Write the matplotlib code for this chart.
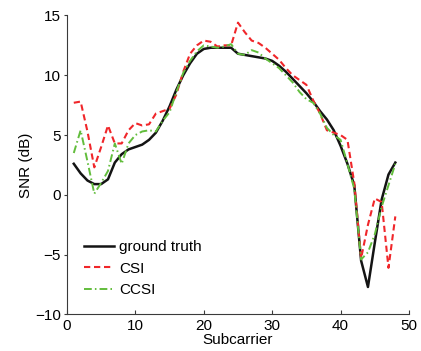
import matplotlib
matplotlib.use("Agg")
import matplotlib.pyplot as plt
import numpy as np

subcarrier = list(range(1, 49))
ground_truth = [2.6, 1.8, 1.2, 0.9, 0.9, 1.3, 2.7, 3.4, 3.8, 4.0,
                4.2, 4.6, 5.2, 6.2, 7.4, 8.8, 10.0, 11.0, 11.8, 12.2,
                12.3, 12.3, 12.3, 12.3, 11.8, 11.7, 11.6, 11.5, 11.4, 11.2,
                10.8, 10.3, 9.7, 9.1, 8.5, 7.8, 7.0, 6.3, 5.4, 4.1,
                2.6, 0.8, -5.5, -7.7, -4.0, -0.4, 1.7, 2.7]
csi = [7.7, 7.8, 5.3, 2.3, 4.0, 5.8, 4.3, 4.3, 5.4, 6.0,
       5.8, 5.9, 6.8, 7.0, 7.2, 8.4, 10.3, 11.8, 12.5, 12.9,
       12.8, 12.4, 12.5, 12.5, 14.4, 13.6, 12.9, 12.7, 12.3, 11.8,
       11.3, 10.6, 10.0, 9.6, 9.2, 7.9, 6.8, 5.4, 5.2, 5.0,
       4.6, 1.0, -5.3, -2.5, -0.3, -0.6, -6.1, -1.8]
ccsi = [3.5, 5.4, 2.8, 0.1, 1.0, 2.0, 4.3, 2.6, 4.3, 5.0,
        5.3, 5.4, 5.3, 6.2, 6.9, 8.6, 10.2, 11.2, 12.0, 12.5,
        12.4, 12.3, 12.4, 12.6, 11.8, 11.7, 12.1, 11.9, 11.4, 11.0,
        10.6, 10.0, 9.4, 8.6, 8.0, 7.7, 6.8, 5.6, 5.0, 4.6,
        2.6, 0.5, -5.4, -4.8, -3.3, -1.0, 0.8, 2.6]

plt.rcParams['font.family'] = ['Liberation Sans', 'DejaVu Sans']

fig = plt.figure(figsize=(4.21, 3.51), dpi=100)
ax = fig.add_axes([0.159, 0.104, 0.9715 - 0.159, 0.956 - 0.104])

ax.plot(subcarrier, ground_truth, color='#141414', lw=1.8, label='ground truth')
ax.plot(subcarrier, csi, color='#f0262a', lw=1.5, linestyle=(0, (3.0, 1.8)), label='CSI')
ax.plot(subcarrier, ccsi, color='#62bd3c', lw=1.4, linestyle=(0, (4.0, 1.6, 0.8, 1.6)), label='CCSI')

ax.set_xlim(0, 50)
ax.set_ylim(-10, 15)
ax.set_xticks([0, 10, 20, 30, 40, 50])
ax.set_yticks([-10, -5, 0, 5, 10, 15])
ax.set_yticklabels(['\u221210', '\u22125', '0', '5', '10', '15'])

for s in ['top', 'right']:
    ax.spines[s].set_visible(False)
for s in ['left', 'bottom']:
    ax.spines[s].set_color('#3a3a3a')
    ax.spines[s].set_linewidth(0.8)

ax.tick_params(axis='x', direction='in', length=3, width=0.8, color='#3a3a3a', labelsize=11, pad=3)
ax.tick_params(axis='y', direction='out', length=2.5, width=0.8, color='#3a3a3a', labelsize=11, pad=2)

ax.set_xlabel('Subcarrier', fontsize=11, labelpad=0)
ax.set_ylabel('SNR (dB)', fontsize=11, labelpad=1.5)

ax.legend(loc='upper left', bbox_to_anchor=(0.031, 0.269), borderaxespad=0,
          frameon=False, fontsize=11, handlelength=2.0, handletextpad=0.3,
          labelspacing=0.5)

fig.savefig('out.png', dpi=100)
